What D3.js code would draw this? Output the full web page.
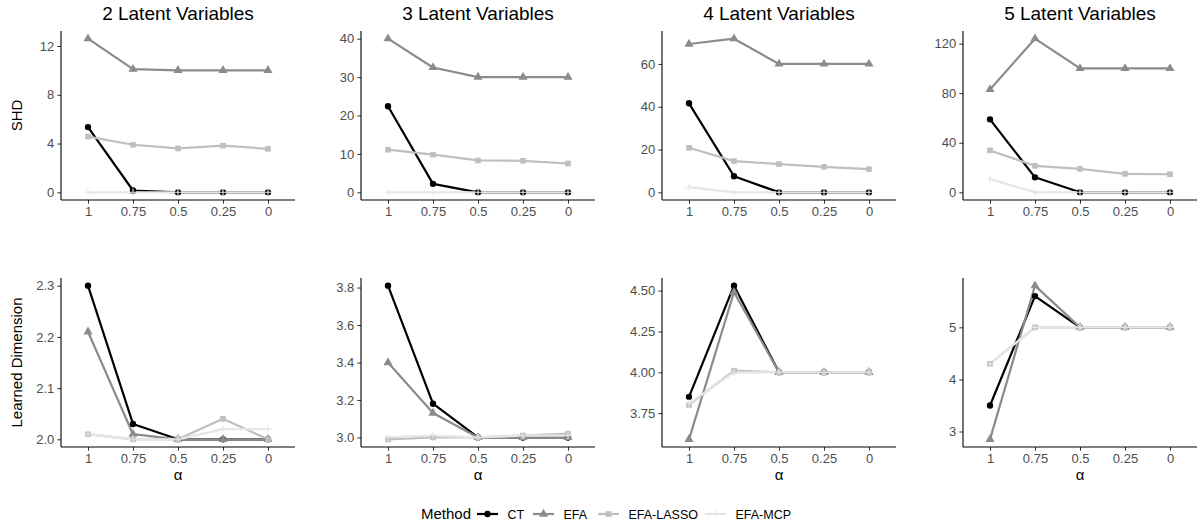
<!DOCTYPE html>
<html>
<head>
<meta charset="utf-8">
<script src="https://cdn.jsdelivr.net/npm/d3@7"></script>
<style>
  body { margin: 0; background: #fff; }
  svg { display: block; font-family: Arial, "Liberation Sans", sans-serif; }
</style>
</head>
<body>
<svg id="chart" width="1200" height="527"></svg>
<script>
// alpha levels on the x axis (discrete, left to right)
const alphaLabels = ["1", "0.75", "0.5", "0.25", "0"];
const methods = ["CT", "EFA", "EFA-LASSO", "EFA-MCP"];
const panelTitles = ["2 Latent Variables", "3 Latent Variables", "4 Latent Variables", "5 Latent Variables"];

// SHD, one row per panel (2,3,4,5 latent variables)
const shdCT    = [[5.35, 0.15, 0, 0, 0], [22.4, 2.2, 0, 0, 0], [41.6, 7.5, 0, 0, 0], [58.9, 12.1, 0, 0, 0]];
const shdEFA   = [[12.6, 10.1, 10, 10, 10], [40, 32.5, 30, 30, 30], [69.3, 71.8, 60, 60, 60], [83, 124, 100, 100, 100]];
const shdLASSO = [[4.57, 3.9, 3.6, 3.83, 3.57], [11.1, 9.8, 8.3, 8.2, 7.5], [20.8, 14.6, 13.2, 11.9, 10.8], [33.8, 21.4, 18.9, 14.9, 14.6]];
const shdMCP   = [[0, 0, 0, 0, 0], [0, 0, 0, 0, 0], [2.4, 0, 0, 0, 0], [10.8, 0, 0, 0, 0]];

// Learned dimension
const dimCT    = [[2.30, 2.03, 2.0, 2.0, 2.0], [3.81, 3.18, 3.0, 3.0, 3.0], [3.85, 4.53, 4.0, 4.0, 4.0], [3.5, 5.6, 5, 5, 5]];
const dimEFA   = [[2.21, 2.01, 2.0, 2.0, 2.0], [3.40, 3.13, 3.0, 3.0, 3.0], [3.59, 4.49, 4.0, 4.0, 4.0], [2.85, 5.8, 5, 5, 5]];
const dimLASSO = [[2.01, 2.0, 2.0, 2.04, 2.0], [2.99, 3.0, 3.0, 3.01, 3.02], [3.80, 4.01, 4.0, 4.0, 4.0], [4.3, 5.0, 5, 5, 5]];
const dimMCP   = [[2.01, 2.0, 2.0, 2.02, 2.02], [3.0, 3.01, 3.0, 3.01, 3.01], [3.81, 4.0, 4.0, 4.0, 4.0], [4.3, 5.0, 5, 5, 5]];

// tick labels
const shdTicks = [[0, 4, 8, 12], [0, 10, 20, 30, 40], [0, 20, 40, 60], [0, 40, 80, 120]];
const dimTicks = [[2.0, 2.1, 2.2, 2.3], [3.0, 3.2, 3.4, 3.6, 3.8], [3.75, 4.0, 4.25, 4.5], [3, 4, 5]];
const dimFormats = [".1f", ".1f", ".2f", "d"];

const colors = d3.scaleOrdinal().domain(methods).range(["#000000", "#8b8b8b", "#bfbfbf", "#e6e6e6"]);
const shapes = { "CT": "circle", "EFA": "triangle", "EFA-LASSO": "square", "EFA-MCP": "plus" };

const svg = d3.select("#chart");
const panelLeft = [61, 361, 662, 963];
const panelWidth = 234;
const rows = [
  { top: 31, bottom: 200, series: [shdCT, shdEFA, shdLASSO, shdMCP], ticks: shdTicks, fmt: () => "d", ylab: "SHD", xlab: false },
  { top: 278, bottom: 447, series: [dimCT, dimEFA, dimLASSO, dimMCP], ticks: dimTicks, fmt: i => dimFormats[i], ylab: "Learned Dimension", xlab: true }
];

function drawPoint(g, shape, x, y, color) {
  if (shape === "plus") {
    g.append("path")
      .attr("d", `M${x - 3.8},${y}H${x + 3.8}M${x},${y - 3.8}V${y + 3.8}`)
      .attr("stroke", color).attr("stroke-width", 1.1).attr("fill", "none");
    return;
  }
  const type = { circle: d3.symbolCircle, triangle: d3.symbolTriangle, square: d3.symbolSquare }[shape];
  const size = { circle: 32, triangle: 36, square: 32 }[shape];
  g.append("path")
    .attr("d", d3.symbol().type(type).size(size)())
    .attr("transform", `translate(${x},${y})`)
    .attr("fill", color);
}

rows.forEach((row, r) => {
  panelTitles.forEach((title, p) => {
    const g = svg.append("g");
    const x = d3.scalePoint().domain(alphaLabels).range([panelLeft[p], panelLeft[p] + panelWidth]).padding(0.6);
    const all = row.series.flatMap(s => s[p]);
    const [lo, hi] = d3.extent(all);
    const pad = (hi - lo) * 0.05;
    const y = d3.scaleLinear().domain([lo - pad, hi + pad]).range([row.bottom, row.top]);

    // axes
    const yAxis = d3.axisLeft(y).tickValues(row.ticks[p]).tickFormat(d3.format(row.fmt(p))).tickSize(3.7).tickPadding(3);
    const xAxis = d3.axisBottom(x).tickSize(3.7).tickPadding(3);
    const ya = g.append("g").attr("transform", `translate(${panelLeft[p]},0)`).call(yAxis);
    const xa = g.append("g").attr("transform", `translate(0,${row.bottom})`).call(xAxis);
    [ya, xa].forEach(a => {
      a.select(".domain").remove();
      a.selectAll(".tick line").attr("stroke", "#333");
      a.selectAll(".tick text").attr("fill", "#4d4d4d").style("font-size", "13px").style("font-family", "Arial, 'Liberation Sans', sans-serif");
    });
    g.append("line").attr("x1", panelLeft[p]).attr("x2", panelLeft[p] + panelWidth)
      .attr("y1", row.bottom).attr("y2", row.bottom).attr("stroke", "#000").attr("stroke-width", 1.1);
    g.append("line").attr("x1", panelLeft[p]).attr("x2", panelLeft[p])
      .attr("y1", row.top).attr("y2", row.bottom).attr("stroke", "#000").attr("stroke-width", 1.1);

    // lines then points
    const line = d3.line().x((d, i) => x(alphaLabels[i])).y(d => y(d));
    methods.forEach((m, k) => {
      g.append("path").datum(row.series[k][p]).attr("d", line)
        .attr("fill", "none").attr("stroke", colors(m)).attr("stroke-width", 2.2).attr("stroke-linejoin", "round");
    });
    methods.forEach((m, k) => {
      row.series[k][p].forEach((v, i) => drawPoint(g, shapes[m], x(alphaLabels[i]), y(v), colors(m)));
    });

    if (r === 0) {
      svg.append("text").attr("x", panelLeft[p] + panelWidth / 2).attr("y", 20)
        .attr("text-anchor", "middle").style("font-size", "19px").text(title);
    }
    if (row.xlab) {
      svg.append("text").attr("x", panelLeft[p] + panelWidth / 2).attr("y", 480)
        .attr("text-anchor", "middle").style("font-size", "15px").text("α");
    }
    if (p === 0) {
      svg.append("text").attr("transform", `translate(22,${(row.top + row.bottom) / 2}) rotate(-90)`)
        .attr("text-anchor", "middle").style("font-size", "15px").text(row.ylab);
    }
  });
});

// legend
const legend = svg.append("g").attr("transform", "translate(0,514)");
legend.append("text").attr("x", 421).attr("y", 5).style("font-size", "15px").text("Method");
const keyX = [477, 533, 598, 705];
methods.forEach((m, k) => {
  legend.append("line").attr("x1", keyX[k]).attr("x2", keyX[k] + 21).attr("y1", 0).attr("y2", 0)
    .attr("stroke", colors(m)).attr("stroke-width", 2.2);
  drawPoint(legend, shapes[m], keyX[k] + 10.5, 0, colors(m));
  legend.append("text").attr("x", keyX[k] + 30.5).attr("y", 4.5).style("font-size", "12.5px").text(m);
});
</script>
</body>
</html>
